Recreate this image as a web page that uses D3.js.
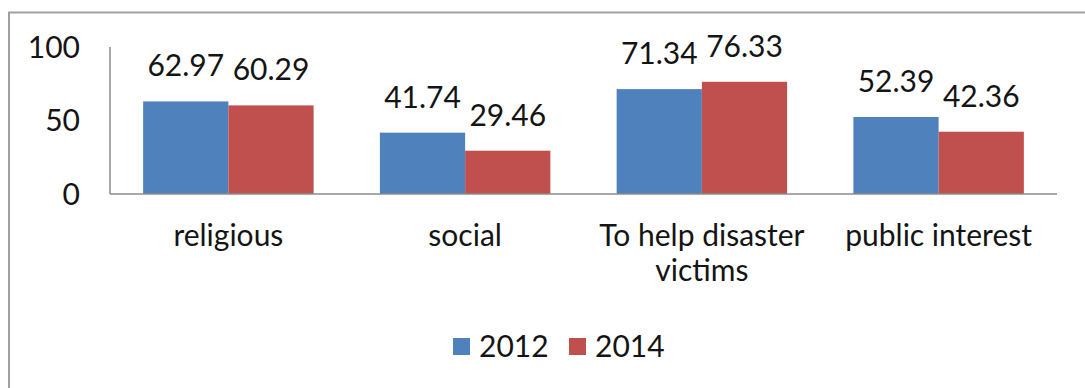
<!DOCTYPE html>
<html>
<head>
<meta charset="utf-8">
<script src="https://cdn.jsdelivr.net/npm/d3@7"></script>
<style>
  body { margin: 0; background: #fff; }
  text { font-family: Lato, "Open Sans", sans-serif; fill: #141414; }
</style>
</head>
<body>
<div id="chart-area"></div>
<script>
var categories = ["religious", "social", "To help disaster victims", "public interest"];
var seriesNames = ["2012", "2014"];
var values2012 = [62.97, 41.74, 71.34, 52.39];
var values2014 = [60.29, 29.46, 76.33, 42.36];
var yTicks = [0, 50, 100];

var colors = {"2012": "#4f81bd", "2014": "#c0504d"};
var width = 1085, height = 388;
var margin = {top: 47, right: 28, bottom: 194, left: 110};

var svg = d3.select("#chart-area")
    .append("svg")
        .attr("width", width)
        .attr("height", height);

// outer frame (top + left edges visible, the rest cut off)
svg.append("path")
    .attr("d", "M9,388 V12.5 H1085")
    .attr("fill", "none")
    .attr("stroke", "#a0a0a0")
    .attr("stroke-width", 2);

var data = categories.map((c, i) => {
    return {cat: c, vals: [
        {name: "2012", value: values2012[i]},
        {name: "2014", value: values2014[i]}
    ]};
});

var x = d3.scaleBand()
    .domain(categories)
    .range([margin.left, width - margin.right])
    .paddingInner(0.28)
    .paddingOuter(0.14);

var x1 = d3.scaleBand()
    .domain(seriesNames)
    .range([0, x.bandwidth()]);

var y = d3.scaleLinear()
    .domain([0, 100])
    .range([margin.bottom, margin.top]);

var groups = svg.selectAll("g.group").data(data)
    .enter().append("g")
    .attr("class", "group")
    .attr("transform", (d) => "translate(" + x(d.cat) + ",0)");

groups.selectAll("rect").data((d) => d.vals)
    .enter().append("rect")
    .attr("x", (d) => x1(d.name))
    .attr("y", (d) => y(d.value))
    .attr("width", x1.bandwidth())
    .attr("height", (d) => y(0) - y(d.value))
    .attr("fill", (d) => colors[d.name]);

groups.selectAll("text.val").data((d) => d.vals)
    .enter().append("text")
    .attr("class", "val")
    .attr("x", (d) => x1(d.name) + x1.bandwidth() / 2)
    .attr("y", (d) => y(d.value) - 25)
    .attr("text-anchor", "middle")
    .attr("font-size", "30px")
    .text((d) => d.value.toFixed(2));

// axes lines
svg.append("line")
    .attr("x1", margin.left).attr("x2", margin.left)
    .attr("y1", y(100)).attr("y2", y(0))
    .attr("stroke", "#8c8c8c").attr("stroke-width", 1.5);
svg.append("line")
    .attr("x1", margin.left).attr("x2", width - margin.right)
    .attr("y1", y(0)).attr("y2", y(0))
    .attr("stroke", "#8c8c8c").attr("stroke-width", 1.5);

// y tick labels
svg.selectAll("text.ytick").data(yTicks)
    .enter().append("text")
    .attr("class", "ytick")
    .attr("x", 80)
    .attr("y", (d) => y(d))
    .attr("dy", "0.35em")
    .attr("text-anchor", "end")
    .attr("font-size", "30px")
    .text((d) => d);

// category labels, wrapped like the original
var catLines = {
    "religious": ["religious"],
    "social": ["social"],
    "To help disaster victims": ["To help disaster", "victims"],
    "public interest": ["public interest"]
};
categories.forEach((c) => {
    var t = svg.append("text")
        .attr("x", x(c) + x.bandwidth() / 2)
        .attr("y", 246)
        .attr("text-anchor", "middle")
        .attr("font-size", "30px");
    catLines[c].forEach((line, i) => {
        t.append("tspan")
            .attr("x", x(c) + x.bandwidth() / 2)
            .attr("dy", i === 0 ? 0 : 35)
            .text(line);
    });
});

// legend
var legendX = [453, 569];
seriesNames.forEach((s, i) => {
    svg.append("rect")
        .attr("x", legendX[i]).attr("y", 338)
        .attr("width", 17).attr("height", 17)
        .attr("fill", colors[s]);
    svg.append("text")
        .attr("x", legendX[i] + 26).attr("y", 357)
        .attr("font-size", "30px")
        .text(s);
});
</script>
</body>
</html>
